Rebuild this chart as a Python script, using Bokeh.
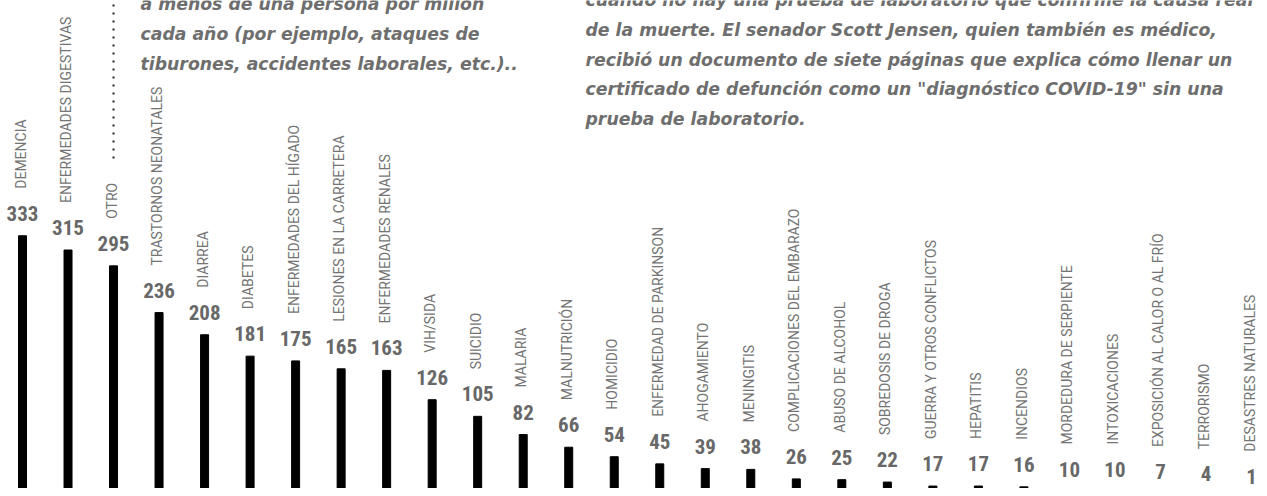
import numpy as np
from bokeh.plotting import figure
from bokeh.models import ColumnDataSource, Range1d
from bokeh.core.properties import value
from bokeh.embed import file_html
from bokeh.resources import INLINE

# ---------------- data ----------------
categories = [
    "DEMENCIA", "ENFERMEDADES DIGESTIVAS", "OTRO", "TRASTORNOS NEONATALES",
    "DIARREA", "DIABETES", "ENFERMEDADES DEL HÍGADO", "LESIONES EN LA CARRETERA",
    "ENFERMEDADES RENALES", "VIH/SIDA", "SUICIDIO", "MALARIA", "MALNUTRICIÓN",
    "HOMICIDIO", "ENFERMEDAD DE PARKINSON", "AHOGAMIENTO", "MENINGITIS",
    "COMPLICACIONES DEL EMBARAZO", "ABUSO DE ALCOHOL", "SOBREDOSIS DE DROGA",
    "GUERRA Y OTROS CONFLICTOS", "HEPATITIS", "INCENDIOS", "MORDEDURA DE SERPIENTE",
    "INTOXICACIONES", "EXPOSICIÓN AL CALOR O AL FRÍO", "TERRORISMO",
    "DESASTRES NATURALES",
]
values = [333, 315, 295, 236, 208, 181, 175, 165, 163, 126, 105, 82, 66, 54,
          45, 39, 38, 26, 25, 22, 17, 17, 16, 10, 10, 7, 4, 1]

note_left = [
    "a menos de una persona por millón",
    "cada año (por ejemplo, ataques de",
    "tiburones, accidentes laborales, etc.)..",
]
note_right = [
    "cuando no hay una prueba de laboratorio que confirme la causa real",
    "de la muerte. El senador Scott Jensen, quien también es médico,",
    "recibió un documento de siete páginas que explica cómo llenar un",
    'certificado de defunción como un "diagnóstico COVID-19" sin una',
    "prueba de laboratorio.",
]
pointer_category = "OTRO"

# ---------------- layout ----------------
W, H = 1259, 488
FIRST = 22            # px of first bar centre
LAST = 1251           # px of last bar centre
STEP = (LAST - FIRST) / (len(categories) - 1)
PPU = 0.792           # px per unit
BASE = 499            # px of zero line
VALUE_GAP = 22.5      # px between bar top and middle of value label
LABEL_GAP = 47        # px between bar top and start of category label

x_start = -FIRST / STEP
x_end = x_start + W / STEP
y_end = BASE / PPU
y_start = y_end - H / PPU


def dx(px):
    return x_start + px / STEP


def dy(py):
    return y_end - py / PPU


xs = list(range(len(categories)))
vals = np.array(values, dtype=float)
src = ColumnDataSource(dict(
    x=xs, top=values, cat=categories, lab=[str(v) for v in values],
    y_val=vals + VALUE_GAP / PPU, y_cat=vals + LABEL_GAP / PPU,
))

p = figure(width=W, height=H, output_backend="svg", toolbar_location=None,
           x_range=Range1d(x_start, x_end), y_range=Range1d(y_start, y_end),
           min_border=0, x_axis_location=None, y_axis_location=None)
p.grid.visible = False
p.outline_line_color = None
p.background_fill_color = "white"
p.border_fill_color = "white"

p.vbar(x="x", top="top", bottom=0, width=8 / STEP, color="black", source=src)

p.text(x="x", y="y_val", text="lab", source=src,
       text_align="center", text_baseline="middle",
       text_font=value("Roboto Condensed, Roboto"), text_font_style="bold",
       text_font_size="21px", text_color="#686868")

p.text(x="x", y="y_cat", text="cat", source=src, angle=np.pi / 2,
       x_offset=-2, text_align="left", text_baseline="middle",
       text_font=value("Roboto"), text_font_size="14px", text_color="#747474")

# dotted pointer
pi_ = categories.index(pointer_category)
p.segment(x0=[pi_], y0=[dy(158)], x1=[pi_], y1=[dy(0)],
          line_color="#222222", line_width=2, line_dash="2 6")

LINE = 29.8
for lines, left, first_mid in ((note_left, 140, 3.8), (note_right, 585, -0.5)):
    p.text(x=[dx(left)] * len(lines),
           y=[dy(first_mid + i * LINE) for i in range(len(lines))],
           text=lines, text_align="left", text_baseline="middle",
           text_font=value("DejaVu Sans"), text_font_style="bold italic",
           text_font_size="17.3px", text_color="#6e6e6e")

open("out.html", "w").write(file_html(p, INLINE))
